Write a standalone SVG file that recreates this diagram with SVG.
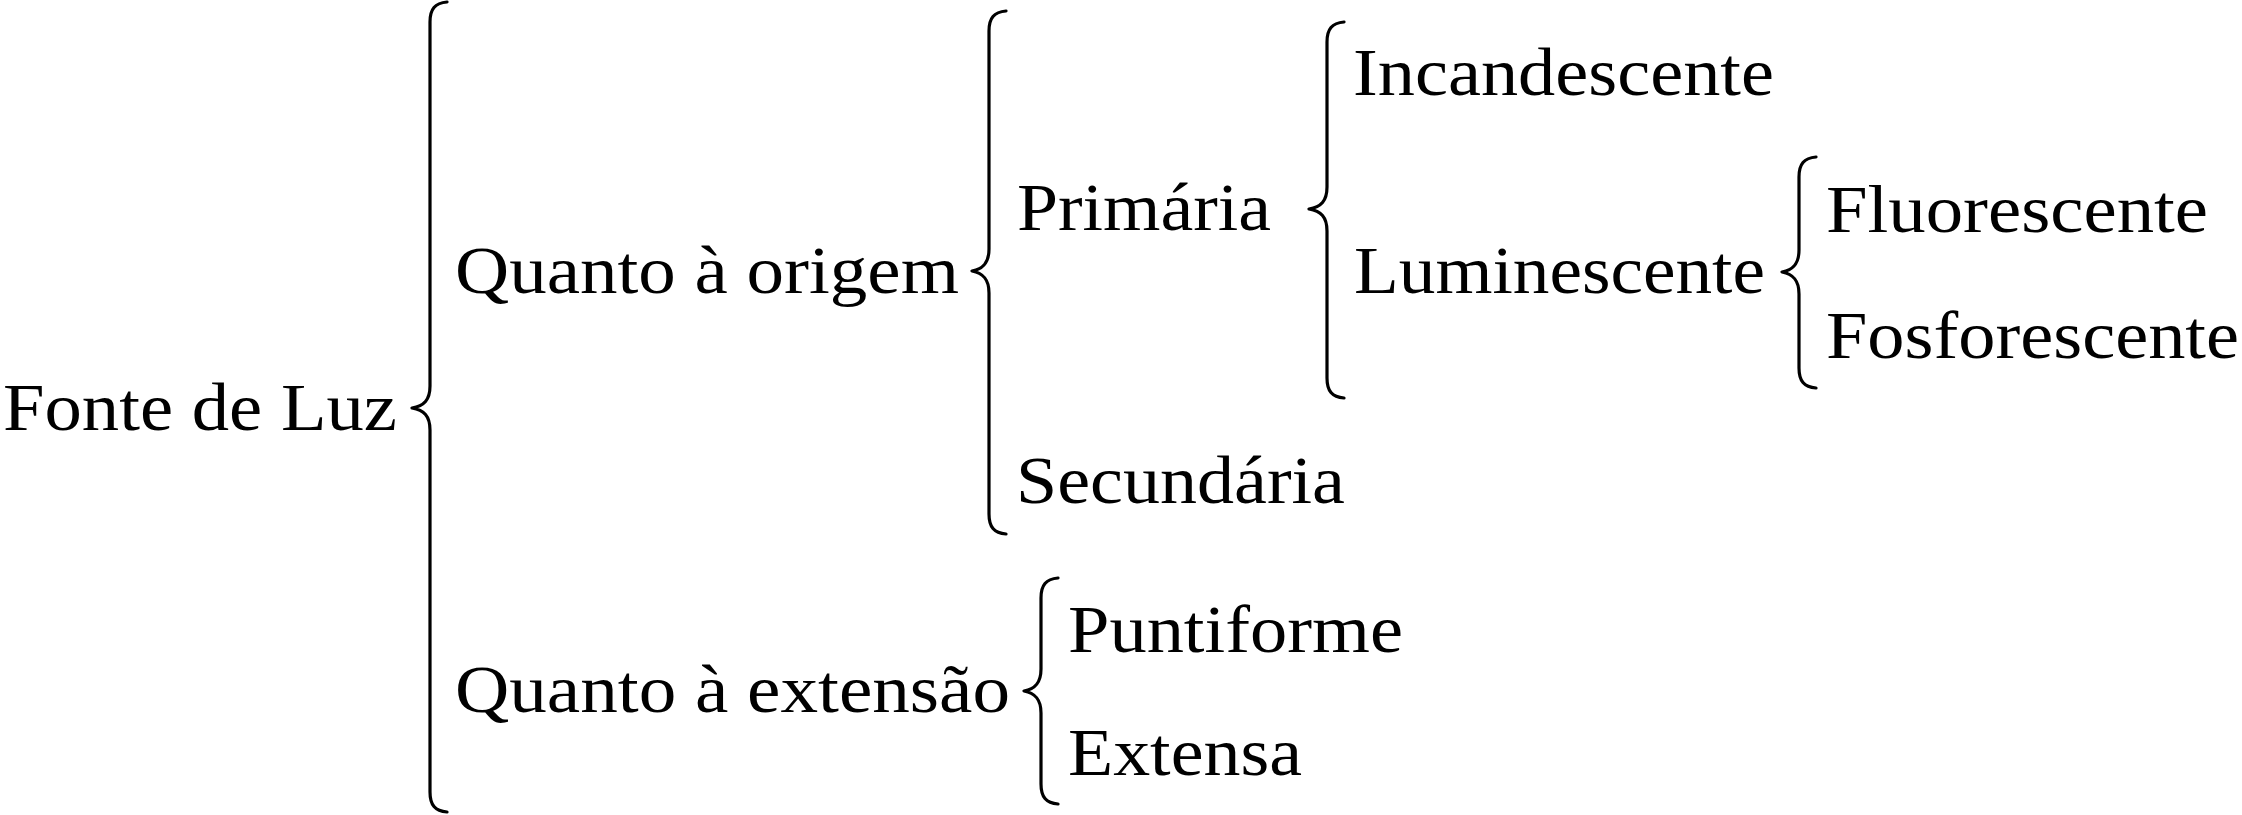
<svg xmlns="http://www.w3.org/2000/svg" width="2242" height="815" viewBox="0 0 2242 815">
<style>
text{font-family:"Liberation Serif","Times New Roman",serif;font-size:68px;fill:#000}
.brace{fill:none;stroke:#000;stroke-width:3.2;stroke-linecap:round;stroke-linejoin:round}
</style>
<rect width="2242" height="815" fill="#fff"/>
<g id="connectors">
<path class="brace" d="M447,2 C435,3 430,9 430,22 L430,386 C430,400 424,406 412,408 C424,410 430,416 430,430 L430,792 C430,805 435,811 447,812"/>
<path class="brace" d="M1006,11 C994,12 989,18 989,31 L989,249 C989,263 983,269 972,271 C983,273 989,279 989,293 L989,514 C989,527 994,533 1006,534"/>
<path class="brace" d="M1344,22 C1332,23 1327,29 1327,42 L1327,187 C1327,201 1321,207 1309,209 C1321,211 1327,217 1327,231 L1327,378 C1327,391 1332,397 1344,398"/>
<path class="brace" d="M1816,157 C1804,158 1799,164 1799,177 L1799,250 C1799,264 1793,270 1782,272 C1793,274 1799,280 1799,294 L1799,368 C1799,381 1804,387 1816,388"/>
<path class="brace" d="M1058,578 C1046,579 1041,585 1041,598 L1041,669 C1041,683 1035,689 1024,691 C1035,693 1041,699 1041,713 L1041,784 C1041,797 1046,803 1058,804"/>
</g>
<g id="fonte-de-luz"><text x="3" y="430" textLength="394" lengthAdjust="spacingAndGlyphs">Fonte de Luz</text></g>
<g id="quanto-origem"><text x="455" y="293" textLength="504" lengthAdjust="spacingAndGlyphs">Quanto à origem</text></g>
<g id="quanto-extensao"><text x="455" y="712" textLength="555" lengthAdjust="spacingAndGlyphs">Quanto à extensão</text></g>
<g id="primaria"><text x="1017" y="230" textLength="254" lengthAdjust="spacingAndGlyphs">Primária</text></g>
<g id="secundaria"><text x="1016" y="503" textLength="329" lengthAdjust="spacingAndGlyphs">Secundária</text></g>
<g id="incandescente"><text x="1353" y="95" textLength="421" lengthAdjust="spacingAndGlyphs">Incandescente</text></g>
<g id="luminescente"><text x="1354" y="293" textLength="411" lengthAdjust="spacingAndGlyphs">Luminescente</text></g>
<g id="fluorescente"><text x="1826" y="232" textLength="382" lengthAdjust="spacingAndGlyphs">Fluorescente</text></g>
<g id="fosforescente"><text x="1826" y="358" textLength="413" lengthAdjust="spacingAndGlyphs">Fosforescente</text></g>
<g id="puntiforme"><text x="1068" y="652" textLength="335" lengthAdjust="spacingAndGlyphs">Puntiforme</text></g>
<g id="extensa"><text x="1068" y="775" textLength="234" lengthAdjust="spacingAndGlyphs">Extensa</text></g>
</svg>
